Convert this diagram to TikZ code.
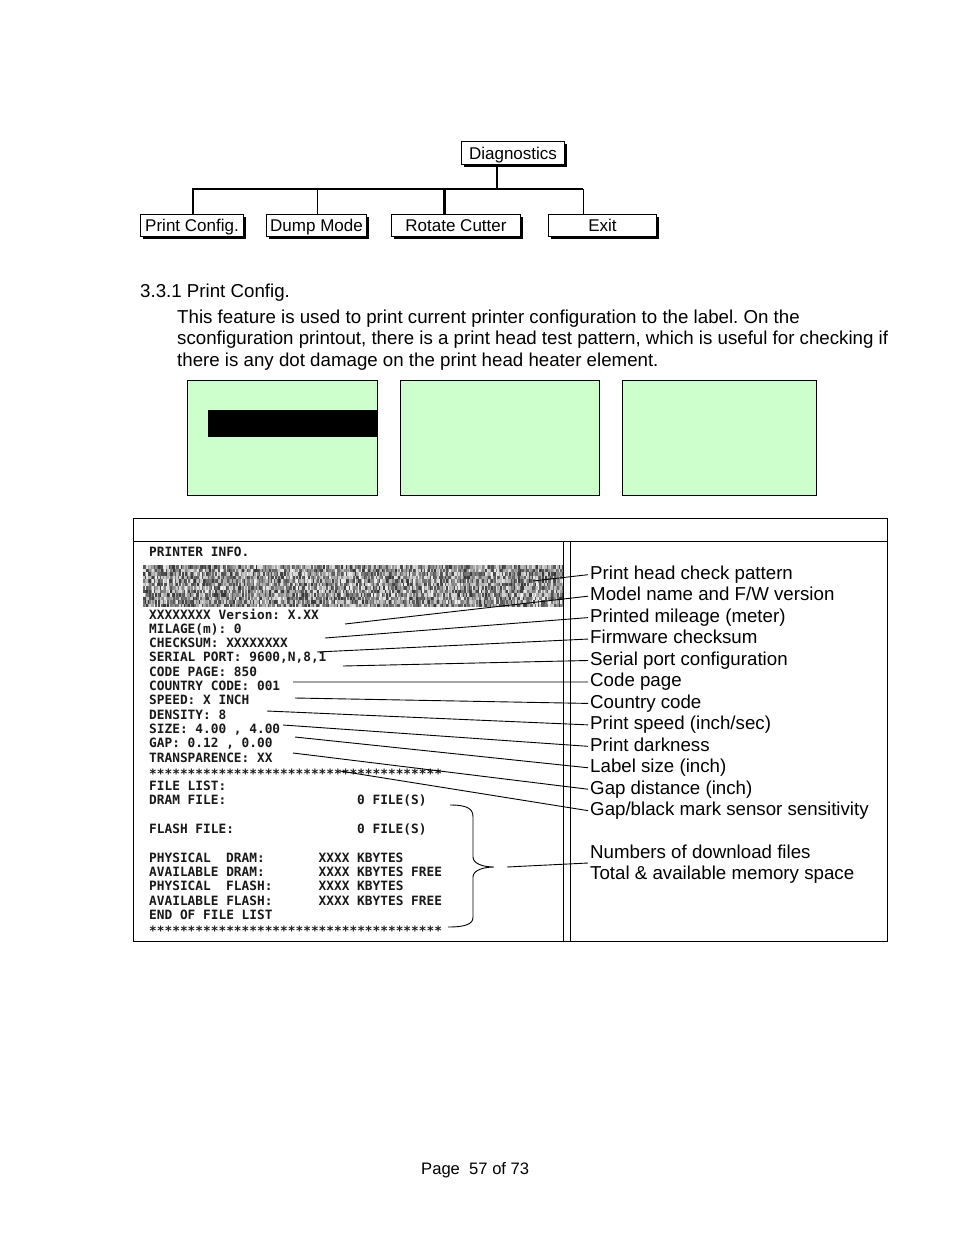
\documentclass[tikz,border=0pt]{standalone}
\usepackage{fontspec}
\setmainfont{Liberation Sans}
\newfontfamily\monofont{DejaVu Sans Mono}
\usetikzlibrary{shadows}
\newlength\mc \setlength\mc{7.7pt}
\definecolor{lcdgreen}{HTML}{CCFFCC}
\frenchspacing
\begin{document}
\begin{tikzpicture}[x=1pt,y=-1pt,
  tbox/.style={draw, line width=1pt, fill=white, inner sep=0pt, anchor=north west,
    font=\fontsize{17}{20}\selectfont, text height=14.5pt, text depth=1.7pt,
    drop shadow={shadow xshift=2.2pt, shadow yshift=-2.2pt, fill=black, opacity=1}},
  treeln/.style={line width=1pt},
  treethick/.style={line width=2.6pt},
  lcd/.style={draw, line width=1pt, fill=lcdgreen},
  body/.style={anchor=base west, inner sep=0pt, font=\fontsize{18.7}{21.5}\selectfont},
  lab/.style={anchor=base west, inner sep=0pt, font=\fontsize{18.7}{21.5}\selectfont, text height=13.6pt, text depth=3.9pt},
  pr/.style={anchor=base west, inner sep=0pt, text=black!90, font=\monofont\bfseries\fontsize{12.8}{14.3}\selectfont},
  lead/.style={line width=0.9pt, shorten >=2pt},
  frame/.style={line width=1pt}
]
\useasboundingbox (0,0) rectangle (954,1235);
\fill[white] (0,0) rectangle (954,1235);

% ---------- menu tree ----------
\node[tbox, minimum width=103pt, minimum height=23pt] (diag) at (461,141) {Diagnostics};
\node[tbox, minimum width=103pt, minimum height=22pt] (pc) at (140,214) {Print Config.};
\node[tbox, minimum width=100pt, minimum height=22pt] (dm) at (266,214) {Dump Mode};
\node[tbox, minimum width=129pt, minimum height=22pt] (rc) at (391,214) {Rotate Cutter};
\node[tbox, minimum width=108pt, minimum height=22pt] (ex) at (548,214) {Exit};
\coordinate (hb) at (0,189);
\coordinate (hl) at (192,189);
\coordinate (hr) at (583,189);
\draw[treethick] ([xshift=-16pt]diag.south) -- ([xshift=-16pt]diag.south |- hb);
\draw[line width=1.8pt] (hl) -- (hr);
\draw[treethick] ([xshift=1pt]pc.north) -- ([xshift=1pt]pc.north |- hb);
\draw[treeln] ([xshift=1pt]dm.north) -- ([xshift=1pt]dm.north |- hb);
\draw[treethick] ([xshift=-11.5pt]rc.north) -- ([xshift=-11.5pt]rc.north |- hb);
\draw[treeln] ([xshift=-19pt]ex.north) -- ([xshift=-19pt]ex.north |- hb);

% ---------- section text ----------
\node[body] (head) at (140,297) {3.3.1 Print Config.};
\node[body] (para1) at (177,323) {This feature is used to print current printer configuration to the label. On the};
\node[body] (para2) at (177,344.5) {sconfiguration printout, there is a print head test pattern, which is useful for checking if};
\node[body] (para3) at (177,366) {there is any dot damage on the print head heater element.};

% ---------- LCD screens ----------
\draw[lcd] (187,380) rectangle (377,495);
\fill[black] (208,410) rectangle (376.5,437);
\draw[lcd] (400,380) rectangle (599,495);
\draw[lcd] (622,380) rectangle (816,495);

% ---------- table frame ----------
\draw[frame] (133,518) rectangle (887,941);
\draw[frame] (133,541) -- (887,541);
\draw[frame] (563,541) -- (563,941);
\draw[frame] (570,541) -- (570,941);

% ---------- print head test pattern ----------
\pgfmathsetseed{4711}
\fill[black!35] (143,565) rectangle (562,607);
\foreach \i in {0,...,279} {
  \foreach \j in {0,...,11} {
    \pgfmathsetmacro\g{int(5+75*rnd)}
    \fill[black!\g] (143+1.5*\i,565+3.5*\j) rectangle ++(1.5,3.5);
  }
}

% ---------- printout text ----------
\node[pr] (p0) at (149,556) {PRINTER INFO.};
\node[pr] (p1) at (149,619) {XXXXXXXX Version: X.XX};
\node[pr] (p2) at (149,633.3) {MILAGE(m): 0};
\node[pr] (p3) at (149,647.6) {CHECKSUM: XXXXXXXX};
\node[pr] (p4) at (149,661.9) {SERIAL PORT: 9600,N,8,1};
\node[pr] (p5) at (149,676.2) {CODE PAGE: 850};
\node[pr] (p6) at (149,690.5) {COUNTRY CODE: 001};
\node[pr] (p7) at (149,704.8) {SPEED: X INCH};
\node[pr] (p8) at (149,719.1) {DENSITY: 8};
\node[pr] (p9) at (149,733.4) {SIZE: 4.00 , 4.00};
\node[pr] (p10) at (149,747.7) {GAP: 0.12 , 0.00};
\node[pr] (p11) at (149,762) {TRANSPARENCE: XX};
\node[pr] (p12) at (149,776.3) {\raisebox{-2pt}{**************************************}};
\node[pr] (p13) at (149,790.6) {FILE LIST:};
\node[pr] (p14) at (149,804.9) {DRAM FILE:\hspace*{17\mc}0 FILE(S)};
\node[pr] (p15) at (149,833.5) {FLASH FILE:\hspace*{16\mc}0 FILE(S)};
\node[pr] (p16) at (149,862.1) {PHYSICAL\hspace*{\mc} DRAM:\hspace*{7\mc}XXXX KBYTES};
\node[pr] (p17) at (149,876.4) {AVAILABLE DRAM:\hspace*{7\mc}XXXX KBYTES FREE};
\node[pr] (p18) at (149,890.7) {PHYSICAL\hspace*{\mc} FLASH:\hspace*{6\mc}XXXX KBYTES};
\node[pr] (p19) at (149,905) {AVAILABLE FLASH:\hspace*{6\mc}XXXX KBYTES FREE};
\node[pr] (p20) at (149,919.3) {END OF FILE LIST};
\node[pr] (p21) at (149,933.6) {\raisebox{-2pt}{**************************************}};

% ---------- brace ----------
\draw[line width=0.9pt] (450,805) .. controls (468,805) and (473,809) .. (473,817)
  -- (473,857) .. controls (473,864) and (484,867) .. (494,867)
  .. controls (484,867) and (473,870) .. (473,877)
  -- (473,917) .. controls (473,924) and (466,927) .. (448,927);

% ---------- labels ----------
\node[lab] (l1) at (590,579.3) {Print head check pattern};
\node[lab] (l2) at (590,600.8) {Model name and F/W version};
\node[lab] (l3) at (590,622.3) {Printed mileage (meter)};
\node[lab] (l4) at (590,643.8) {Firmware checksum};
\node[lab] (l5) at (590,665.3) {Serial port configuration};
\node[lab] (l6) at (590,686.8) {Code page};
\node[lab] (l7) at (590,708.3) {Country code};
\node[lab] (l8) at (590,729.8) {Print speed (inch/sec)};
\node[lab] (l9) at (590,751.3) {Print darkness};
\node[lab] (l10) at (590,772.8) {Label size (inch)};
\node[lab] (l11) at (590,794.3) {Gap distance (inch)};
\node[lab] (l12) at (590,815.8) {Gap/black mark sensor sensitivity};
\node[lab] (l13) at (590,858) {Numbers of download files};
\node[lab] (l14) at (590,879.5) {Total \& available memory space};

% ---------- leader lines ----------
\coordinate (c1) at (533,581);
\coordinate (c2) at (345,624);
\coordinate (c3) at (325,638);
\coordinate (c4) at (317,652);
\coordinate (c5) at (343,666);
\coordinate (c6) at (293,682);
\coordinate (c7) at (295,698);
\coordinate (c8) at (267,711);
\coordinate (c9) at (283,725);
\coordinate (c10) at (295,737);
\coordinate (c11) at (293,753);
\coordinate (c12) at (340,771);
\coordinate (c13) at (507,867);
\coordinate (t13) at (588,863);
\foreach \k in {1,...,12} { \draw[lead] (c\k) -- (l\k.west); }
\draw[line width=0.9pt] (c13) -- (t13);

% ---------- footer ----------
\node[anchor=base west, inner sep=0pt, font=\fontsize{16.6}{19}\selectfont] (foot) at (421,1174) {Page\ \ 57 of 73};
\end{tikzpicture}
\end{document}
